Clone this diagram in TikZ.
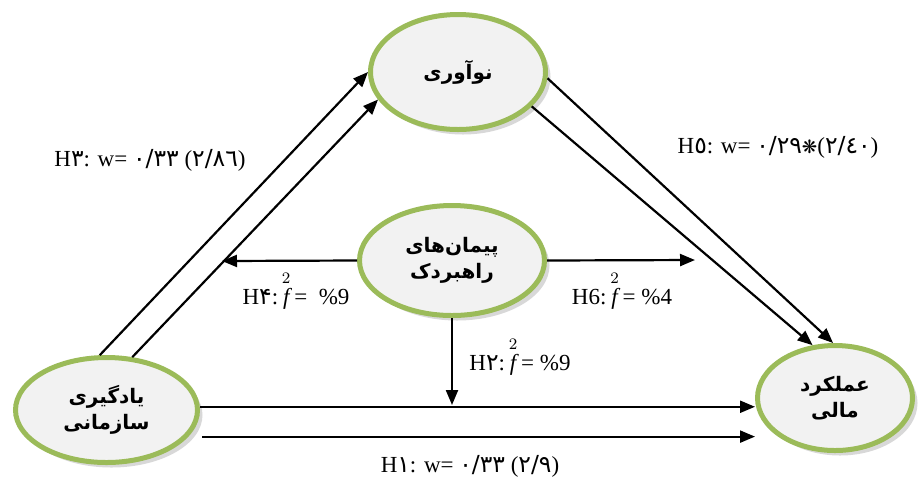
\documentclass[tikz,border=0pt]{standalone}
\usepackage{amsmath}
\usepackage{fontspec}
\setmainfont{Liberation Serif}
\newfontfamily\arabicfont[Script=Arabic]{DejaVu Sans}
\newfontfamily\digitfont[Scale=1.02]{DejaVu Sans}
\TeXXeTstate=1
\usetikzlibrary{arrows.meta,shapes.geometric,shadows}
\definecolor{ringgreen}{RGB}{155,187,89}
\definecolor{ringfill}{RGB}{242,242,242}
\newcommand{\fd}[1]{{\digitfont #1}}
\newcommand{\fsq}{$\overset{2}{\textit{f}}$}

\begin{document}
\begin{tikzpicture}[x=0.5pt,y=-0.5pt,
  concept/.style={ellipse,draw=ringgreen,line width=2.5pt,fill=ringfill,align=center,inner sep=0pt,
    font=\arabicfont\bfseries\fontsize{10}{13}\selectfont,
    drop shadow={shadow xshift=2.5pt,shadow yshift=-2.5pt,fill=black!30}},
  arr/.style={-{Triangle[length=7.5pt,width=6pt]},line width=1.1pt},
  lab/.style={font=\fontsize{11.5}{14}\selectfont}]
  \useasboundingbox (0,0) rectangle (924,478);
  \node[concept,minimum width=91pt,minimum height=52.5pt] (learn) at (106.5,410)
    {\beginR یادگیری\endR\\\beginR سازمانی\endR};
  \node[concept,minimum width=87.5pt,minimum height=57.5pt] (innov) at (458,72)
    {\beginR نوآوری\endR};
  \node[concept,minimum width=92.5pt,minimum height=55pt] (alliance) at (452,260.5)
    {\beginR پیمان‌های\endR\\\beginR راهبردک\endR};
  \node[concept,minimum width=77.5pt,minimum height=52.5pt] (perf) at (835,398)
    {\beginR عملکرد\endR\\\beginR مالی\endR};
  \coordinate (leftend) at (222,261);
  \coordinate (rightend) at (695,260);
  \coordinate (downend) at (452,405);
  \draw[arr] (learn.97) -- (innov.180);
  \draw[arr] (learn.64) -- (innov.199);
  \draw[arr] (innov.-4) -- (perf.92);
  \draw[arr] (innov.-25) -- (perf.113);
  \draw[arr] (learn.2) -- (learn.2 -| perf.west);
  \draw[arr] ([xshift=7pt]learn.-18) -- (learn.-18 -| perf.west);
  \draw[arr] (alliance.west) -- (leftend);
  \draw[arr] (alliance.east) -- (rightend);
  \draw[arr] (alliance.south) -- (downend);
  \node[lab] (h3) at (150,160) {H\fd{۳}: w= \fd{۰/۳۳} (\fd{۲/۸٦})};
  \node[lab] (h5) at (778,147) {H\fd{٥}: w= \fd{۰/۲۹}{\digitfont\small❋}(\fd{۲/٤۰})};
  \node[lab] (h4) at (296,290) {H\fd{۴}:\,\fsq\,= \ \%9};
  \node[lab] (h6) at (622,290) {H6:\,\fsq\,= \%4};
  \node[lab] (h2) at (520,356) {H\fd{۲}:\,\fsq\,= \%9};
  \node[lab] (h1) at (470,466) {H\fd{۱}: w= \fd{۰/۳۳} (\fd{۲/۹})};
\end{tikzpicture}
\end{document}
